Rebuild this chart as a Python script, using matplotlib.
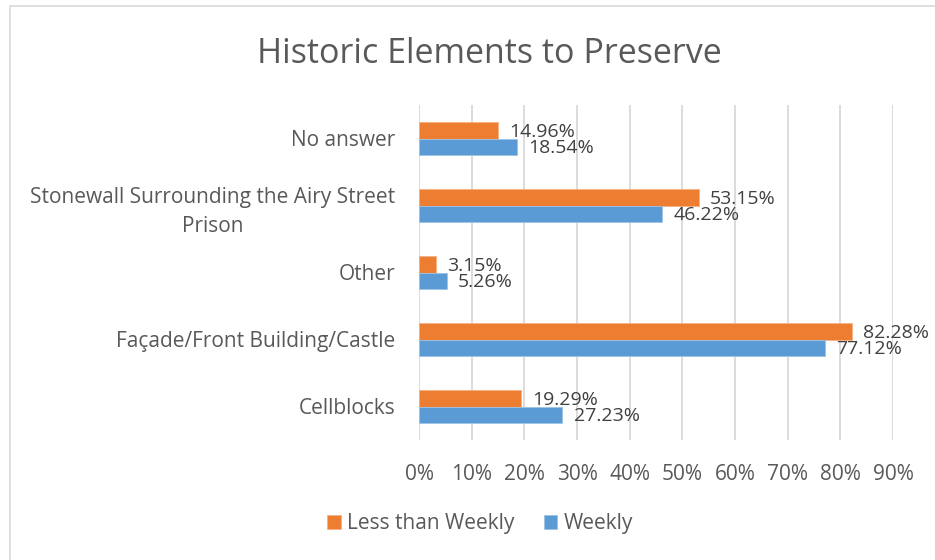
import numpy as np
import matplotlib
matplotlib.use("Agg")
import matplotlib.pyplot as plt
from matplotlib.patches import Rectangle

# Datos
categories = ["Cellblocks", "Façade/Front Building/Castle", "Other",
              "Stonewall Surrounding the Airy Street\nPrison", "No answer"]
less_than_weekly = [19.29, 82.28, 3.15, 53.15, 14.96]
weekly = [27.23, 77.12, 5.26, 46.22, 18.54]
x_ticks = [0, 10, 20, 30, 40, 50, 60, 70, 80, 90]

orange = "#ED7D31"
blue = "#5B9BD5"
text_col = "#595959"

plt.rcParams['font.family'] = ['Open Sans', 'DejaVu Sans']

fig = plt.figure(figsize=(9.35, 5.6), dpi=100)
ax = fig.add_axes([419 / 935, 1 - 440 / 560, (893 - 419) / 935, (440 - 105) / 560])

# Marco del gráfico
fig.patches.append(Rectangle((10 / 935, -0.1), 1.2, 1 - 6 / 560 + 0.1,
                             transform=fig.transFigure, fill=False,
                             edgecolor="#D9D9D9", linewidth=1.2))

y = np.arange(len(categories))
h = 0.25
b1 = ax.barh(y + h / 2, less_than_weekly, height=h, color=orange,
             edgecolor="#F4B183", linewidth=0.6, label="Less than Weekly", zorder=3)
b2 = ax.barh(y - h / 2, weekly, height=h, color=blue,
             edgecolor="#9DC3E6", linewidth=0.6, label="Weekly", zorder=3)

for bars in (b1, b2):
    for bar in bars:
        w = bar.get_width()
        ax.annotate(f"{w:.2f}%", (w, bar.get_y() + bar.get_height() / 2),
                    xytext=(8, -1), textcoords="offset points",
                    va="center", ha="left", fontsize=14, color="#404040")

ax.set_xlim(0, 90)
ax.set_ylim(-0.5, len(categories) - 0.5)
ax.set_xticks(x_ticks)
ax.set_xticklabels([f"{t}%" for t in x_ticks], fontsize=15, color=text_col)
ax.set_yticks(y)
ax.set_yticklabels(categories, fontsize=15, color=text_col,
                   multialignment="center", linespacing=1.5)
ax.tick_params(axis="both", length=0)
ax.tick_params(axis="x", pad=17)
ax.tick_params(axis="y", pad=17)
ax.grid(axis="x", color="#D9D9D9", linewidth=1.3, zorder=0)
for s in ax.spines.values():
    s.set_visible(False)

fig.text(489 / 935, 1 - 54 / 560, "Historic Elements to Preserve",
         ha="center", va="center", fontsize=24.5, color=text_col)

fig.legend(loc="center", bbox_to_anchor=(480 / 935, 1 - 524 / 560), ncol=2,
           frameon=False, fontsize=15, labelcolor=text_col,
           handlelength=0.65, handleheight=0.65, handletextpad=0.3, columnspacing=1.4)

fig.savefig("out.png", dpi=100)
